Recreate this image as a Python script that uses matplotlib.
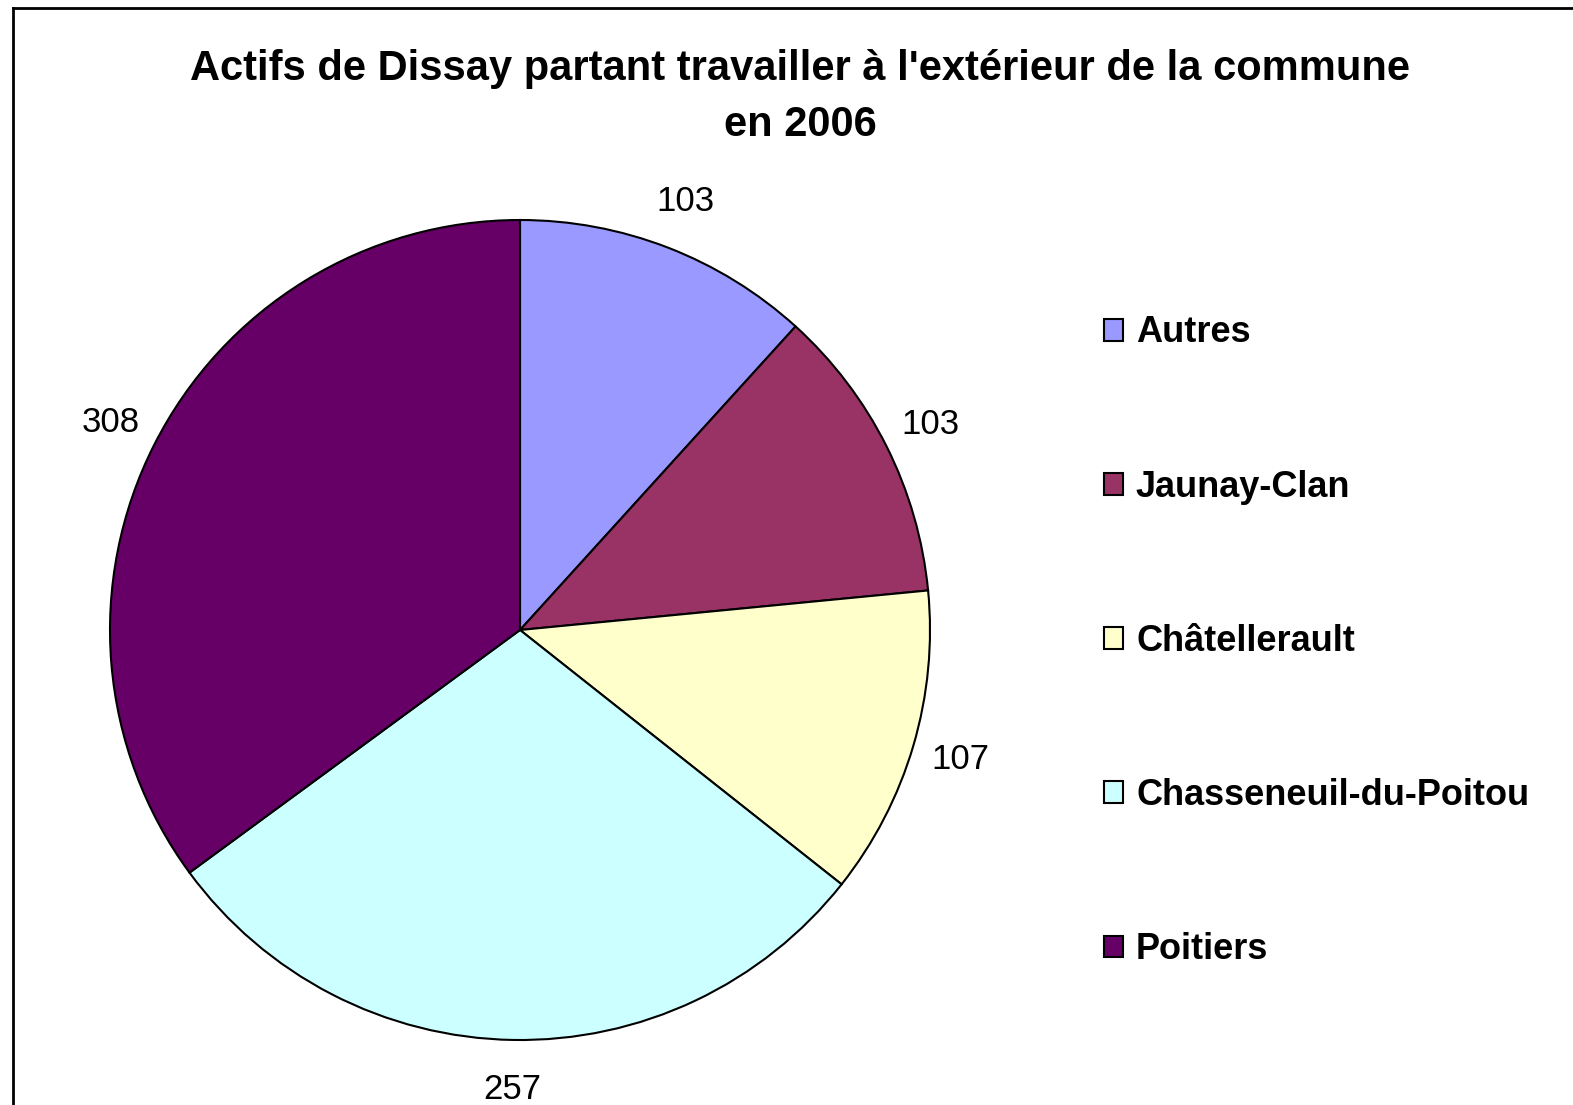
import numpy as np
import matplotlib
matplotlib.use("Agg")
import matplotlib.pyplot as plt
from matplotlib.lines import Line2D

plt.rcParams['font.family'] = ['Liberation Sans', 'DejaVu Sans']

categories = ["Autres", "Jaunay-Clan", "Châtellerault", "Chasseneuil-du-Poitou", "Poitiers"]
values = [103, 103, 107, 257, 308]
colors = ["#9999FF", "#993366", "#FFFFCC", "#CCFFFF", "#660066"]
title = "Actifs de Dissay partant travailler à l'extérieur de la commune\nen 2006"

fig = plt.figure(figsize=(15.73, 11.05), dpi=100)

# cadre (haut + gauche seulement visibles)
fig.add_artist(Line2D([13/1573, 1], [1 - 8/1105, 1 - 8/1105], color="black", lw=2, transform=fig.transFigure))
fig.add_artist(Line2D([13/1573, 13/1573], [0, 1 - 8/1105], color="black", lw=2, transform=fig.transFigure))

ax = fig.add_axes([110/1573, 65/1105, 820/1573, 820/1105])
wedges, _ = ax.pie(values, colors=colors, startangle=90, counterclock=False,
                   wedgeprops=dict(edgecolor="black", linewidth=1.5))
ax.set_xlim(-1, 1)
ax.set_ylim(-1, 1)
ax.set_aspect("equal")

for w, v in zip(wedges, values):
    ang = np.deg2rad((w.theta1 + w.theta2) / 2)
    r = 1.12
    ax.text(r * np.cos(ang), r * np.sin(ang), str(v), ha="center", va="center",
            fontsize=25, clip_on=False)

fig.text(800/1573, 1 - 97/1105, title, ha="center", va="center",
         fontsize=30, fontweight="bold", linespacing=1.5)

leg = fig.legend(wedges, categories, loc="upper left", bbox_to_anchor=(1071/1573, 1 - 283/1105),
                 frameon=False, prop=dict(size=26, weight="bold"),
                 handlelength=0.55, handleheight=0.55, handletextpad=0.35, labelspacing=3.3)
for h in leg.legend_handles:
    h.set_linewidth(1.5)

fig.savefig("out.png", dpi=100)
